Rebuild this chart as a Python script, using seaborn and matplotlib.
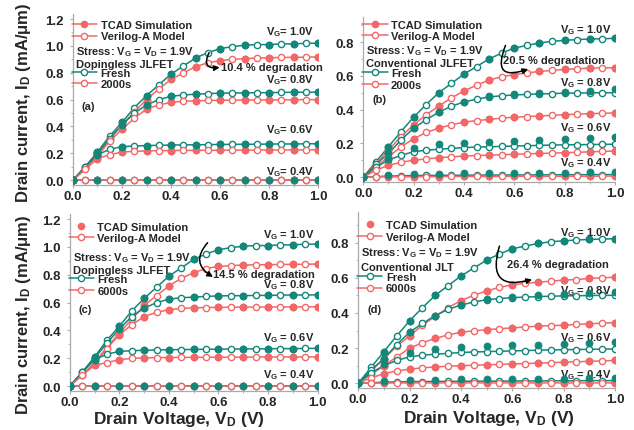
import matplotlib
matplotlib.use("Agg")
import matplotlib.pyplot as plt
from matplotlib.lines import Line2D
from matplotlib.ticker import MultipleLocator, FormatStrFormatter
import seaborn as sns

# Drain voltage grid: model points every 0.05 V, TCAD points every 0.1 V
vd_model = [0.0, 0.05, 0.1, 0.15, 0.2, 0.25, 0.3, 0.35, 0.4, 0.45, 0.5,
            0.55, 0.6, 0.65, 0.7, 0.75, 0.8, 0.85, 0.9, 0.95, 1.0]
vd_tcad = [0.0, 0.1, 0.2, 0.3, 0.4, 0.5, 0.6, 0.7, 0.8, 0.9, 1.0]
vg_levels = ["1.0", "0.8", "0.6", "0.4"]

# Dopingless JLFET, fresh (panels a and c)
dl_fresh_10 = [0, 0.10, 0.21, 0.33, 0.43, 0.54, 0.63, 0.71, 0.79, 0.85, 0.91, 0.95, 0.98, 0.995, 1.005, 1.01, 1.01, 1.015, 1.015, 1.02, 1.02]
dl_fresh_08 = [0, 0.10, 0.20, 0.31, 0.41, 0.50, 0.56, 0.60, 0.625, 0.635, 0.64, 0.645, 0.648, 0.65, 0.65, 0.652, 0.652, 0.654, 0.655, 0.655, 0.656]
dl_fresh_06 = [0, 0.10, 0.19, 0.23, 0.25, 0.255, 0.258, 0.26, 0.262, 0.263, 0.264, 0.265, 0.266, 0.267, 0.268, 0.268, 0.269, 0.27, 0.27, 0.271, 0.272]
dl_fresh_04 = [0, 0, 0, 0, 0, 0, 0, 0, 0, 0, 0, 0, 0, 0, 0, 0, 0, 0, 0, 0, 0]

# Dopingless JLFET after 2000 s stress (panel a)
dl_2000_10 = [0, 0.09, 0.19, 0.31, 0.41, 0.51, 0.60, 0.68, 0.75, 0.80, 0.845, 0.875, 0.89, 0.90, 0.905, 0.91, 0.912, 0.914, 0.915, 0.916, 0.918]
dl_2000_08 = [0, 0.09, 0.18, 0.29, 0.38, 0.46, 0.53, 0.56, 0.58, 0.588, 0.592, 0.594, 0.595, 0.596, 0.597, 0.597, 0.598, 0.598, 0.599, 0.6, 0.6]
dl_2000_06 = [0, 0.08, 0.16, 0.19, 0.21, 0.215, 0.218, 0.22, 0.221, 0.222, 0.222, 0.223, 0.223, 0.224, 0.224, 0.225, 0.225, 0.225, 0.226, 0.226, 0.227]
dl_2000_04 = [0, 0, 0, 0, 0, 0, 0, 0, 0, 0, 0, 0, 0, 0, 0, 0, 0, 0, 0, 0, 0]

# Dopingless JLFET after 6000 s stress (panel c)
dl_6000_10 = [0, 0.08, 0.17, 0.28, 0.38, 0.48, 0.58, 0.65, 0.72, 0.775, 0.815, 0.845, 0.86, 0.866, 0.87, 0.872, 0.873, 0.874, 0.875, 0.876, 0.877]
dl_6000_08 = [0, 0.08, 0.16, 0.27, 0.37, 0.44, 0.50, 0.53, 0.55, 0.558, 0.563, 0.565, 0.566, 0.567, 0.568, 0.568, 0.569, 0.569, 0.57, 0.57, 0.571]
dl_6000_06 = [0, 0.08, 0.15, 0.17, 0.19, 0.20, 0.203, 0.205, 0.206, 0.207, 0.207, 0.208, 0.208, 0.209, 0.209, 0.209, 0.21, 0.21, 0.21, 0.21, 0.211]
dl_6000_04 = [0, 0, 0, 0, 0, 0, 0, 0, 0, 0, 0, 0, 0, 0, 0, 0, 0, 0, 0, 0, 0]

# Conventional JLFET, fresh (panels b and d): model and TCAD differ at low VG
cv_fresh_10 = [0, 0.09, 0.18, 0.27, 0.355, 0.43, 0.50, 0.555, 0.61, 0.655, 0.70, 0.735, 0.765, 0.78, 0.795, 0.805, 0.81, 0.815, 0.818, 0.82, 0.822]
cv_fresh_08 = [0, 0.075, 0.14, 0.22, 0.29, 0.34, 0.385, 0.42, 0.445, 0.462, 0.475, 0.482, 0.487, 0.49, 0.493, 0.495, 0.497, 0.498, 0.499, 0.5, 0.5]
cv_fresh_06 = [0, 0.06, 0.10, 0.13, 0.15, 0.16, 0.165, 0.17, 0.175, 0.178, 0.18, 0.182, 0.184, 0.186, 0.188, 0.19, 0.191, 0.192, 0.193, 0.194, 0.195]
cv_fresh_04 = [0, 0.003, 0.006, 0.008, 0.009, 0.01, 0.01, 0.011, 0.011, 0.012, 0.012, 0.012, 0.013, 0.013, 0.013, 0.014, 0.014, 0.014, 0.015, 0.015, 0.015]
cv_fresh_tcad_08 = [0, 0.14, 0.29, 0.385, 0.445, 0.478, 0.492, 0.50, 0.505, 0.512, 0.52]
cv_fresh_tcad_06 = [0, 0.11, 0.17, 0.195, 0.205, 0.21, 0.215, 0.22, 0.225, 0.23, 0.235]
cv_fresh_tcad_04 = [0, 0.015, 0.018, 0.02, 0.022, 0.024, 0.025, 0.026, 0.027, 0.028, 0.03]

# Conventional JLFET after 2000 s stress (panel b)
cv_2000_10 = [0, 0.08, 0.16, 0.24, 0.31, 0.37, 0.42, 0.47, 0.51, 0.545, 0.575, 0.595, 0.607, 0.617, 0.626, 0.632, 0.638, 0.642, 0.646, 0.647, 0.648]
cv_2000_08 = [0, 0.06, 0.12, 0.18, 0.227, 0.265, 0.29, 0.31, 0.326, 0.335, 0.342, 0.349, 0.355, 0.359, 0.362, 0.366, 0.37, 0.373, 0.376, 0.378, 0.38]
cv_2000_06 = [0, 0.04, 0.07, 0.088, 0.10, 0.108, 0.115, 0.12, 0.125, 0.128, 0.13, 0.133, 0.135, 0.138, 0.14, 0.142, 0.145, 0.147, 0.15, 0.152, 0.155]
cv_2000_04 = [0, 0.001, 0.002, 0.002, 0.003, 0.003, 0.003, 0.004, 0.004, 0.004, 0.004, 0.004, 0.005, 0.005, 0.005, 0.005, 0.005, 0.005, 0.005, 0.006, 0.006]

# Conventional JLT after 6000 s stress (panel d)
cv_6000_10 = [0, 0.07, 0.14, 0.21, 0.27, 0.33, 0.38, 0.43, 0.47, 0.50, 0.525, 0.545, 0.56, 0.568, 0.575, 0.58, 0.587, 0.59, 0.596, 0.6, 0.603]
cv_6000_08 = [0, 0.05, 0.10, 0.15, 0.20, 0.23, 0.255, 0.275, 0.29, 0.298, 0.305, 0.31, 0.315, 0.32, 0.325, 0.328, 0.33, 0.335, 0.338, 0.342, 0.345]
cv_6000_06 = [0, 0.03, 0.055, 0.07, 0.08, 0.088, 0.093, 0.097, 0.10, 0.103, 0.105, 0.107, 0.11, 0.112, 0.115, 0.117, 0.12, 0.122, 0.125, 0.127, 0.13]
cv_6000_04 = [0, 0.001, 0.001, 0.002, 0.002, 0.002, 0.002, 0.002, 0.002, 0.002, 0.002, 0.002, 0.002, 0.002, 0.002, 0.002, 0.002, 0.002, 0.002, 0.002, 0.002]

panel_tags = ["(a)", "(b)", "(c)", "(d)"]
device_names = ["Dopingless JLFET", "Conventional JLFET", "Dopingless JLFET", "Conventional JLT"]
stress_times = ["2000s", "2000s", "6000s", "6000s"]
degradations = ["10.4 % degradation", "20.5 % degradation", "14.5 % degradation", "26.4 % degradation"]
vg_fmt = ["V$_G$= {}V", "V$_G$ = {}V", "V$_G$ = {}V", "V$_G$ = {}V"]

TEAL = "#12877a"
PINK = "#f26868"

sns.set_style("white")
plt.rcParams["font.family"] = ["Liberation Sans", "DejaVu Sans"]
plt.rcParams["font.weight"] = "bold"
plt.rcParams["mathtext.fontset"] = "custom"
plt.rcParams["mathtext.bf"] = "Liberation Sans:bold"
plt.rcParams["mathtext.rm"] = "Liberation Sans:bold"
plt.rcParams["mathtext.default"] = "bf"

fig = plt.figure(figsize=(6.34, 4.31), dpi=100)

# axes rectangles in figure fractions, y limits
rects = [[0.115, 0.568, 0.387, 0.397], [0.573, 0.575, 0.397, 0.383],
         [0.110, 0.090, 0.391, 0.411], [0.565, 0.097, 0.405, 0.408]]
ylims = [(-0.037, 1.237), (-0.03, 0.948), (-0.036, 1.236), (-0.028, 0.972)]

fresh_sets = [
    [dl_fresh_10, dl_fresh_08, dl_fresh_06, dl_fresh_04],
    [cv_fresh_10, cv_fresh_08, cv_fresh_06, cv_fresh_04],
    [dl_fresh_10, dl_fresh_08, dl_fresh_06, dl_fresh_04],
    [cv_fresh_10, cv_fresh_08, cv_fresh_06, cv_fresh_04],
]
fresh_tcad_sets = [
    [dl_fresh_10[::2], dl_fresh_08[::2], dl_fresh_06[::2], dl_fresh_04[::2]],
    [cv_fresh_10[::2], cv_fresh_tcad_08, cv_fresh_tcad_06, cv_fresh_tcad_04],
    [dl_fresh_10[::2], dl_fresh_08[::2], dl_fresh_06[::2], dl_fresh_04[::2]],
    [cv_fresh_10[::2], cv_fresh_tcad_08, cv_fresh_tcad_06, cv_fresh_tcad_04],
]
stress_sets = [
    [dl_2000_10, dl_2000_08, dl_2000_06, dl_2000_04],
    [cv_2000_10, cv_2000_08, cv_2000_06, cv_2000_04],
    [dl_6000_10, dl_6000_08, dl_6000_06, dl_6000_04],
    [cv_6000_10, cv_6000_08, cv_6000_06, cv_6000_04],
]

# label positions
vg_label_y = [[1.11, 0.75, 0.38, 0.07], [0.877, 0.563, 0.296, 0.09],
              [1.09, 0.73, 0.35, 0.086], [0.86, 0.53, 0.26, 0.05]]
deg_text_xy = [(0.605, 0.84), (0.556, 0.693), (0.577, 0.805), (0.58, 0.676)]
arrow_start = [(0.555, 0.95), (0.565, 0.78), (0.556, 1.03), (0.55, 0.78)]
arrow_end = [(0.598, 0.84), (0.655, 0.64), (0.578, 0.785), (0.677, 0.59)]
arrow_rad = [0.9, 1.1, 0.6, 0.9]
leg1_top = [0.965, 0.985, 0.955, 0.955]
stress_y = [0.786, 0.802, 0.757, 0.775]
device_y = [0.711, 0.724, 0.686, 0.69]
leg2_top = [0.685, 0.69, 0.66, 0.66]
tag_y = [0.462, 0.503, 0.463, 0.449]

FS = 8

for i in range(4):
    ax = fig.add_axes(rects[i])
    for k in range(4):
        sns.lineplot(x=vd_model, y=fresh_sets[i][k], ax=ax, color=TEAL, lw=1.1,
                     marker="o", markersize=4.5, markerfacecolor="white",
                     markeredgecolor=TEAL, markeredgewidth=1.0, zorder=2)
        sns.lineplot(x=vd_model, y=stress_sets[i][k], ax=ax, color=PINK, lw=1.1,
                     marker="o", markersize=4.5, markerfacecolor="white",
                     markeredgecolor=PINK, markeredgewidth=1.0, zorder=2)
        sns.scatterplot(x=vd_tcad, y=stress_sets[i][k][::2], ax=ax, color=PINK,
                        s=26, edgecolor=PINK, linewidth=0.5, zorder=3)
        sns.scatterplot(x=vd_tcad, y=fresh_tcad_sets[i][k], ax=ax, color=TEAL,
                        s=26, edgecolor=TEAL, linewidth=0.5, zorder=4)
        ax.text(0.985, vg_label_y[i][k], vg_fmt[i].format(vg_levels[k]),
                ha="right", va="center", fontsize=FS, fontweight="bold")

    ax.set_xlim(0, 1.0)
    ax.set_ylim(*ylims[i])
    ax.xaxis.set_major_locator(MultipleLocator(0.2))
    ax.xaxis.set_minor_locator(MultipleLocator(0.1))
    ax.yaxis.set_major_locator(MultipleLocator(0.2))
    ax.yaxis.set_minor_locator(MultipleLocator(0.1))
    ax.xaxis.set_major_formatter(FormatStrFormatter("%.1f"))
    ax.yaxis.set_major_formatter(FormatStrFormatter("%.1f"))
    ax.tick_params(axis="both", which="major", direction="out", length=2.5,
                   width=0.8, color="#aaaaaa", labelsize=9.5,
                   bottom=True, left=True)
    ax.tick_params(axis="x", which="major", pad=1)
    ax.tick_params(axis="y", which="major", pad=4)
    ax.tick_params(axis="both", which="minor", direction="out", length=1.5,
                   width=0.6, color="#aaaaaa", bottom=True, left=True)
    for side in ["top", "right"]:
        ax.spines[side].set_visible(False)
    for side in ["left", "bottom"]:
        ax.spines[side].set_color("#aaaaaa")
        ax.spines[side].set_linewidth(0.9)
    ax.set_xlabel("")
    ax.set_ylabel("")

    # legend: TCAD / Verilog-A
    tcad_ls = "-" if i < 2 else "none"
    h1 = [Line2D([], [], color=PINK, ls=tcad_ls, lw=1.1, marker="o", ms=4.5,
                 mfc=PINK, mec=PINK),
          Line2D([], [], color=PINK, lw=1.1, marker="o", ms=4.5, mfc="white",
                 mec=PINK)]
    leg1 = ax.legend(h1, ["TCAD Simulation", "Verilog-A Model"], loc="upper left",
                     bbox_to_anchor=(-0.005, leg1_top[i]), frameon=False,
                     prop={"size": FS, "weight": "bold"}, handlelength=2.3,
                     handletextpad=0.3, labelspacing=0.12, borderpad=0.0,
                     borderaxespad=0.0)
    ax.add_artist(leg1)
    ax.text(0.012, stress_y[i], "Stress: V$_G$ = V$_D$ = 1.9V", transform=ax.transAxes,
            ha="left", va="center", fontsize=FS, fontweight="bold")
    ax.text(0.012, device_y[i], device_names[i], transform=ax.transAxes,
            ha="left", va="center", fontsize=FS, fontweight="bold")
    h2 = [Line2D([], [], color=TEAL, lw=1.1, marker="o", ms=4.5, mfc="white", mec=TEAL),
          Line2D([], [], color=PINK, lw=1.1, marker="o", ms=4.5, mfc="white", mec=PINK)]
    ax.legend(h2, ["Fresh", stress_times[i]], loc="upper left",
              bbox_to_anchor=(-0.005, leg2_top[i]), frameon=False,
              prop={"size": FS, "weight": "bold"}, handlelength=2.3,
              handletextpad=0.3, labelspacing=0.12, borderpad=0.0,
              borderaxespad=0.0)
    ax.text(0.035, tag_y[i], panel_tags[i], transform=ax.transAxes, ha="left",
            va="center", fontsize=FS, fontweight="bold")

    # degradation annotation with curved arrow
    ax.text(deg_text_xy[i][0], deg_text_xy[i][1], degradations[i], ha="left",
            va="center", fontsize=FS, fontweight="bold", clip_on=False)
    ax.annotate("", xy=arrow_end[i], xytext=arrow_start[i],
                arrowprops=dict(arrowstyle="-|>", lw=1.1, color="black",
                                mutation_scale=8, shrinkA=0, shrinkB=0,
                                connectionstyle="arc3,rad=%.2f" % arrow_rad[i]))

    if i in (0, 2):
        ax.set_ylabel("Drain current, I$_D$ (mA/\u03bcm)", fontsize=12,
                      fontweight="bold")
        ax.yaxis.set_label_coords(-0.163 if i == 0 else -0.15,
                                  0.49 if i == 0 else 0.44)
    if i in (2, 3):
        ax.set_xlabel("Drain Voltage, V$_D$ (V)", fontsize=12.5, fontweight="bold")
        ax.xaxis.set_label_coords(0.44 if i == 2 else 0.51,
                                  -0.1 if i == 2 else -0.115)

fig.savefig("out.png", dpi=100)
